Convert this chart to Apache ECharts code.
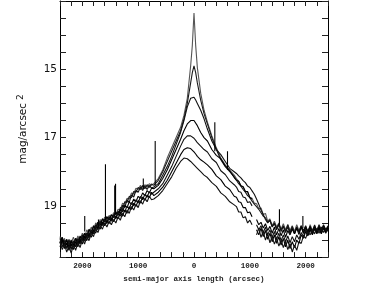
<!DOCTYPE html>
<html>
<head>
<meta charset="utf-8">
<script src="https://cdn.jsdelivr.net/npm/echarts@6/dist/echarts.min.js"></script>
<style>
  html, body { margin: 0; padding: 0; background: #fff; }
  #chart { width: 388px; height: 288px; }
</style>
</head>
<body>
<div id="chart"></div>
<script>
// semi-major axis positions (arcsec), shared by all profiles
var xs = [-2400, -2360, -2320, -2280, -2240, -2200, -2160, -2120, -2080, -2040, -2000, -1960, -1920, -1880, -1840, -1800, -1760, -1720, -1680, -1640, -1600,
          -1560, -1520, -1480, -1440, -1400, -1360, -1320, -1280, -1240, -1200, -1160, -1120, -1080, -1040, -1000, -960, -920, -880, -840, -800, -760,
          -720, -640, -560, -480, -400, -320, -240, -180, -120, -60, -30, 0, 30, 60, 120, 180, 240, 320, 400, 480, 560, 640, 720,
          760, 800, 840, 880, 920, 960, 1000, 1040, 1080, 1120, 1160, 1200, 1240, 1280, 1320, 1360, 1400, 1440, 1480, 1520, 1560,
          1600, 1640, 1680, 1720, 1760, 1800, 1840, 1880, 1920, 1960, 2000, 2040, 2080, 2120, 2160, 2200, 2240, 2280, 2320, 2360, 2400];

// surface brightness profiles (mag/arcsec^2), brightest first
var profA = [19.90, 20.12, 19.95, 20.15, 19.98, 20.10, 19.92, 20.08, 19.88, 20.02, 19.80, 19.92, 19.70, 19.82, 19.62, 19.70, 19.50, 19.58, 19.40, 19.50, 19.33,
             19.42, 19.28, 19.36, 19.20, 19.27, 19.10, 19.12, 18.92, 18.95, 18.78, 18.80, 18.62, 18.65, 18.48, 18.52, 18.40, 18.50, 18.38, 18.45, 18.35, 18.40,
             18.35, 18.2, 17.95, 17.6, 17.3, 17.0, 16.7, 16.35, 15.85, 14.9, 14.3, 13.35, 14.3, 14.95, 15.7, 16.2, 16.55, 16.95, 17.3, 17.6, 17.8, 17.95, 18.1,
             18.20, 18.28, 18.40, 18.44, 18.58, 18.60, 18.75, 18.78, 18.92, 18.94, 19.08, 19.06, 19.25, 19.22, 19.45, 19.38, 19.58, 19.45, 19.62, 19.50, 19.68,
             19.52, 19.70, 19.55, 19.72, 19.58, 19.75, 19.55, 19.72, 19.58, 19.75, 19.60, 19.78, 19.55, 19.72, 19.58, 19.76, 19.55, 19.70, 19.58, 19.74, 19.62];
var profB = [20.08, 19.95, 20.18, 19.98, 20.20, 20.00, 20.15, 19.95, 20.08, 19.88, 19.98, 19.80, 19.88, 19.68, 19.78, 19.58, 19.66, 19.48, 19.56, 19.38, 19.46,
             19.32, 19.40, 19.26, 19.34, 19.18, 19.25, 19.05, 19.08, 18.88, 18.90, 18.72, 18.76, 18.58, 18.60, 18.46, 18.52, 18.40, 18.50, 18.38, 18.46, 18.36,
             18.4, 18.25, 18.0, 17.7, 17.4, 17.1, 16.8, 16.45, 16.0, 15.4, 15.1, 14.9, 15.1, 15.4, 15.9, 16.3, 16.6, 17.0, 17.35, 17.65, 17.85, 18.0, 18.15,
             18.25, 18.35, 18.42, 18.52, 18.60, 18.70, 18.76, 18.86, 18.95, 19.02, 19.10, 19.20, 19.30, 19.35, 19.48, 19.42, 19.60, 19.50, 19.66, 19.52, 19.70,
             19.58, 19.75, 19.55, 19.78, 19.60, 19.80, 19.62, 19.76, 19.58, 19.80, 19.62, 19.74, 19.60, 19.80, 19.62, 19.72, 19.56, 19.78, 19.60, 19.70, 19.58];
var profC = [20.05, 19.92, 20.15, 20.22, 20.00, 20.18, 20.05, 20.20, 19.95, 20.10, 19.85, 20.00, 19.80, 19.90, 19.70, 19.78, 19.55, 19.66, 19.45, 19.55, 19.38,
             19.48, 19.32, 19.42, 19.25, 19.35, 19.15, 19.22, 18.98, 19.05, 18.82, 18.90, 18.68, 18.74, 18.55, 18.60, 18.45, 18.55, 18.42, 18.52, 18.40, 18.48,
             18.45, 18.35, 18.1, 17.85, 17.55, 17.2, 16.85, 16.5, 16.1, 15.85, 15.8, 15.82, 15.9, 16.0, 16.2, 16.45, 16.75, 17.1, 17.35, 17.5, 17.7, 17.9, 18.0,
             18.05, 18.12, 18.18, 18.26, 18.32, 18.42, 18.46, 18.56, 18.66, 18.80, 18.95, 19.12, 19.25, 19.40, 19.50, 19.42, 19.62, 19.52, 19.70, 19.55, 19.75,
             19.60, 19.78, 19.62, 19.80, 19.65, 19.82, 19.62, 19.78, 19.60, 19.72, 19.58, 19.78, 19.62, 19.75, 19.56, 19.74, 19.60, 19.72, 19.55, 19.70, 19.62];
var profD = [20.10, 19.92, 20.15, 19.98, 20.22, 20.02, 20.18, 19.95, 20.12, 19.90, 20.02, 19.80, 19.92, 19.70, 19.80, 19.60, 19.68, 19.48, 19.58, 19.38, 19.48,
             19.32, 19.42, 19.26, 19.34, 19.20, 19.28, 19.10, 19.18, 18.98, 19.06, 18.88, 18.96, 18.80, 18.88, 18.72, 18.78, 18.62, 18.70, 18.55, 18.62, 18.48,
             18.5, 18.4, 18.2, 17.95, 17.65, 17.35, 17.05, 16.8, 16.6, 16.5, 16.48, 16.5, 16.55, 16.65, 16.85, 17.0, 17.1, 17.35, 17.52, 17.62, 17.83, 17.97, 18.17,
             18.25, 18.28, 18.42, 18.44, 18.58, 18.58, 18.76, 18.80, null, 19.40, 19.55, 19.48, 19.65, 19.52, 19.72, 19.60, 19.80, 19.62, 19.85, 19.66, 19.88,
             19.70, 19.92, 19.72, 19.85, 19.68, 19.82, 19.66, 19.84, 19.62, 19.80, 19.64, 19.78, 19.60, 19.82, 19.62, 19.76, 19.64, 19.80, 19.60, 19.74, 19.66];
var profE = [19.95, 20.20, 20.02, 20.25, 20.05, 20.28, 20.02, 20.20, 19.98, 20.12, 19.88, 20.04, 19.80, 19.95, 19.72, 19.82, 19.58, 19.70, 19.48, 19.58, 19.40,
             19.52, 19.35, 19.45, 19.28, 19.38, 19.20, 19.30, 19.10, 19.18, 19.00, 19.10, 18.90, 19.00, 18.82, 18.92, 18.72, 18.82, 18.66, 18.75, 18.58, 18.66,
             18.6, 18.5, 18.35, 18.1, 17.85, 17.55, 17.25, 17.05, 16.95, 16.95, 16.98, 17.02, 17.08, 17.15, 17.25, 17.35, 17.42, 17.62, 17.73, 17.97, 18.08, 18.27, 18.38,
             18.45, 18.58, 18.60, 18.74, 18.76, 18.90, 18.88, 19.00, null, 19.55, 19.70, 19.58, 19.78, 19.62, 19.85, 19.70, 19.92, 19.75, 19.98, 19.80, 20.02,
             19.85, 20.05, 19.88, 20.08, 19.90, 20.05, 19.85, 19.98, 19.78, 19.90, 19.70, 19.85, 19.68, 19.80, 19.65, 19.82, 19.66, 19.78, 19.62, 19.80, 19.68];
var profF = [20.20, 20.00, 20.25, 20.08, 20.30, 20.10, 20.28, 20.05, 20.20, 19.98, 20.12, 19.88, 20.02, 19.80, 19.92, 19.70, 19.80, 19.58, 19.68, 19.48, 19.58,
             19.42, 19.52, 19.36, 19.46, 19.30, 19.38, 19.20, 19.30, 19.12, 19.22, 19.02, 19.10, 18.92, 19.02, 18.84, 18.92, 18.74, 18.84, 18.68, 18.76, 18.60,
             18.7, 18.6, 18.45, 18.25, 18.0, 17.75, 17.5, 17.35, 17.3, 17.32, 17.35, 17.42, 17.48, 17.55, 17.65, 17.72, 17.8, 17.93, 18.12, 18.23, 18.42, 18.52, 18.72,
             18.75, 18.88, 18.90, 19.05, 19.05, 19.20, 19.18, 19.32, null, 19.70, 19.85, 19.65, 19.90, 19.72, 19.98, 19.80, 20.05, 19.85, 20.10, 19.90, 20.15,
             19.95, 20.20, 20.00, 20.25, 20.05, 20.22, 20.00, 20.10, 19.85, 19.95, 19.75, 19.88, 19.70, 19.85, 19.68, 19.80, 19.64, 19.82, 19.66, 19.76, 19.62];
var profG = [20.05, 20.28, 20.12, 20.35, 20.18, 20.38, 20.15, 20.30, 20.08, 20.22, 19.98, 20.12, 19.90, 20.02, 19.80, 19.90, 19.68, 19.78, 19.58, 19.68, 19.50,
             19.62, 19.45, 19.55, 19.40, 19.50, 19.32, 19.42, 19.22, 19.32, 19.12, 19.22, 19.02, 19.12, 18.95, 19.05, 18.85, 18.95, 18.78, 18.88, 18.72, 18.82,
             18.8, 18.7, 18.55, 18.35, 18.15, 17.9, 17.7, 17.6, 17.62, 17.7, 17.75, 17.8, 17.85, 17.9, 18.0, 18.1, 18.17, 18.32, 18.43, 18.62, 18.72, 18.88, 18.97,
             19.02, 19.18, 19.18, 19.35, 19.32, 19.50, 19.42, 19.55, null, 19.85, 19.65, 19.92, 19.75, 20.00, 19.82, 20.08, 19.90, 20.12, 19.95, 20.18, 20.00,
             20.22, 20.05, 20.28, 20.10, 20.35, 20.15, 20.30, 20.05, 20.10, 19.88, 19.95, 19.75, 19.85, 19.70, 19.82, 19.66, 19.80, 19.62, 19.78, 19.68, 19.74];

// stars / cosmic rays: narrow spikes
var spikeX    = [-1957, -1711, -1586, -1420, -1405, -908, -695, 373, 600, 1530, 1950];
var spikeTop  = [19.3, 19.4, 17.78, 18.4, 18.35, 18.2, 17.1, 16.55, 17.4, 19.1, 19.3];
var spikeBase = [19.75, 19.6, 19.4, 19.25, 19.2, 18.5, 18.4, 17.4, 17.95, 19.55, 19.65];

var yLabels = [15, 17, 19];

var profiles = [profA, profB, profC, profD, profE, profF, profG];
var colors = ['#555', '#1a1a1a', '#111', '#000', '#111', '#000', '#111'];

function pairs(ys) {
    return xs.map(function (x, i) {
        return [x, ys[i] == null ? '-' : ys[i]];
    });
}

var series = profiles.map(function (p, i) {
    return {
        type: 'line',
        data: pairs(p),
        showSymbol: false,
        connectNulls: false,
        lineStyle: { color: colors[i], width: 1.1 },
        animation: false,
        silent: true
    };
});

var spikeData = [];
spikeX.forEach(function (x, i) {
    spikeData.push([x, spikeBase[i]], [x, spikeTop[i]], [x, '-']);
});
series.push({
    type: 'line',
    data: spikeData,
    showSymbol: false,
    connectNulls: false,
    lineStyle: { color: '#000', width: 1.1 },
    animation: false,
    silent: true
});

var chart = echarts.init(document.getElementById('chart'));

var xBase = {
    type: 'value',
    min: -2400,
    max: 2400,
    interval: 200,
    splitLine: { show: false },
    axisLine: { show: true, onZero: false, lineStyle: { color: '#000', width: 1 } },
    axisTick: { inside: true, length: 5, lineStyle: { color: '#222' } }
};

var yBase = {
    type: 'value',
    inverse: true,
    min: 13,
    max: 20.5,
    interval: 0.5,
    splitLine: { show: false },
    axisLine: { show: true, onZero: false, lineStyle: { color: '#000', width: 1 } },
    axisTick: { inside: true, length: 6, lineStyle: { color: '#222' } }
};

var option = {
    backgroundColor: '#fff',
    animation: false,
    grid: { left: 60, right: 60, top: 1, bottom: 26 },
    xAxis: [
        Object.assign({}, xBase, {
            position: 'bottom',
            name: 'semi-major axis length (arcsec)',
            nameLocation: 'middle',
            nameGap: 14,
            nameTextStyle: { fontFamily: 'Liberation Mono', fontWeight: 'bold', fontSize: 7.6, color: '#222' },
            axisLabel: {
                margin: 5,
                fontFamily: 'Liberation Mono',
                fontWeight: 'bold',
                fontSize: 7.6,
                color: '#222',
                formatter: function (v) {
                    return v % 1000 === 0 ? String(Math.abs(v)) : '';
                }
            }
        }),
        Object.assign({}, xBase, {
            position: 'top',
            axisLabel: { show: false }
        })
    ],
    yAxis: [
        Object.assign({}, yBase, {
            position: 'left',
            name: '{a|mag/arcsec}{s| 2}',
            nameLocation: 'middle',
            nameRotate: 90,
            nameGap: 31,
            nameTextStyle: {
                rich: {
                    a: { fontFamily: 'DejaVu Sans', fontSize: 10.5, color: '#111', lineHeight: 13, verticalAlign: 'bottom' },
                    s: { fontFamily: 'DejaVu Sans', fontSize: 9, color: '#111', lineHeight: 13, verticalAlign: 'top' }
                }
            },
            axisLabel: {
                margin: 3,
                fontFamily: 'DejaVu Sans',
                fontSize: 10.5,
                color: '#111',
                formatter: function (v) {
                    return yLabels.indexOf(v) >= 0 ? String(v) : '';
                }
            }
        }),
        Object.assign({}, yBase, {
            position: 'right',
            axisLabel: { show: false }
        })
    ],
    series: series
};

chart.setOption(option);
</script>
</body>
</html>
